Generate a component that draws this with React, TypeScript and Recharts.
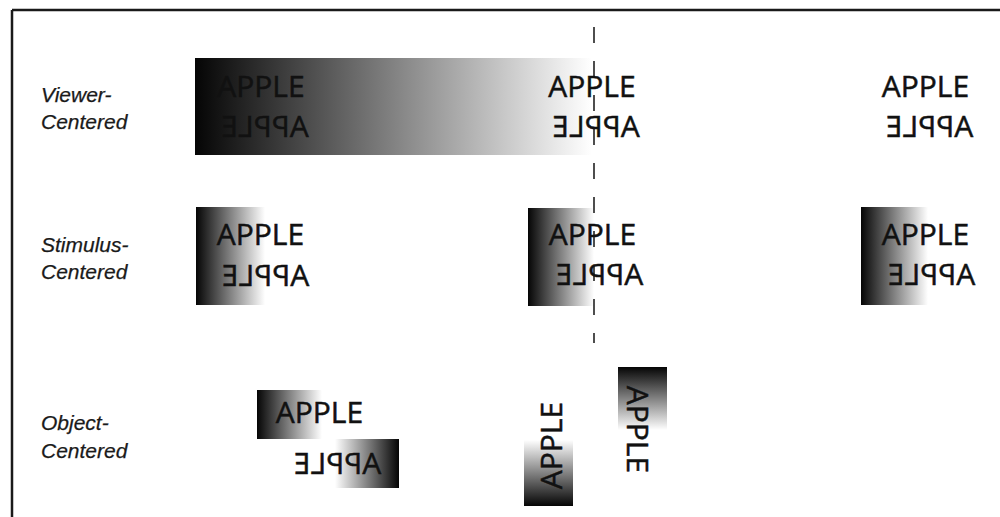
import { ComposedChart, XAxis, YAxis, Scatter, ReferenceArea, ReferenceLine } from "recharts";

// coordinate space of the figure: x 0..1000, y 0..517 (top-down)
const W = 1000;
const H = 517;

// shaded boxes: [x1, x2, y1, y2, gradient id]
const boxes: [number, number, number, number, string][] = [
  [195, 592, 58, 155, "toWhiteRight"],
  [196, 265, 207, 305, "toWhiteRight"],
  [528, 594, 208, 306, "toWhiteRight"],
  [861, 928, 207, 305, "toWhiteRight"],
  [257, 322, 390, 439, "toWhiteRight"],
  [335, 399, 439, 488, "toWhiteLeft"],
  [524, 573, 440, 506, "toWhiteTop"],
  [618, 667, 367, 430, "toWhiteBottom"],
];

// row labels
const labels = [
  { x: 41, y: 102, text: "Viewer-" },
  { x: 41, y: 129, text: "Centered" },
  { x: 41, y: 252, text: "Stimulus-" },
  { x: 41, y: 279, text: "Centered" },
  { x: 41, y: 430, text: "Object-" },
  { x: 41, y: 458, text: "Centered" },
];

// word positions, kind = how the word is drawn
const words = [
  { x: 261, y: 97, kind: "normal" },
  { x: 592, y: 97, kind: "normal" },
  { x: 925.5, y: 97, kind: "normal" },
  { x: 265, y: 137, kind: "mirror" },
  { x: 596, y: 137, kind: "mirror" },
  { x: 929.5, y: 137, kind: "mirror" },
  { x: 260.5, y: 245, kind: "normal" },
  { x: 592.5, y: 245, kind: "normal" },
  { x: 925.5, y: 245, kind: "normal" },
  { x: 265.5, y: 286, kind: "mirror" },
  { x: 599.5, y: 285, kind: "mirror" },
  { x: 931.5, y: 285, kind: "mirror" },
  { x: 319.5, y: 423, kind: "normal" },
  { x: 337.5, y: 474, kind: "mirror" },
  { x: 562, y: 445.5, kind: "up" },
  { x: 627, y: 429.5, kind: "down" },
];

const WORD = "APPLE";

const transformFor = (kind: string, cx: number, cy: number) => {
  if (kind === "mirror") return `translate(${cx},${cy}) scale(-1,1)`;
  if (kind === "up") return `translate(${cx},${cy}) rotate(-90)`;
  if (kind === "down") return `translate(${cx},${cy}) rotate(90)`;
  return `translate(${cx},${cy})`;
};

const WordShape = (props: any) => {
  const { cx, cy, payload } = props;
  return (
    <text
      transform={transformFor(payload.kind, cx, cy)}
      x={0}
      y={0}
      textAnchor="middle"
      fontFamily="'Open Sans', sans-serif"
      fontSize={30}
      fill="#111"
      stroke="#111"
      strokeWidth={0.5}
    >
      {WORD}
    </text>
  );
};

const LabelShape = (props: any) => {
  const { cx, cy, payload } = props;
  return (
    <text
      x={cx}
      y={cy}
      textAnchor="start"
      fontFamily="'Liberation Sans', Arial, sans-serif"
      fontStyle="italic"
      fontSize={21}
      fill="#1a1a1a"
      stroke="#1a1a1a"
      strokeWidth={0.25}
    >
      {payload.text}
    </text>
  );
};

export default function App() {
  return (
    <div style={{ position: "absolute", left: 0, top: 0, width: W, height: H, background: "#fff" }}>
      <ComposedChart width={W} height={H} margin={{ top: 0, right: 0, bottom: 0, left: 0 }}>
        <defs>
          <linearGradient id="toWhiteRight" x1="0" y1="0" x2="1" y2="0">
            <stop offset="0%" stopColor="#050505" />
            <stop offset="100%" stopColor="#ffffff" />
          </linearGradient>
          <linearGradient id="toWhiteLeft" x1="1" y1="0" x2="0" y2="0">
            <stop offset="0%" stopColor="#050505" />
            <stop offset="100%" stopColor="#ffffff" />
          </linearGradient>
          <linearGradient id="toWhiteTop" x1="0" y1="1" x2="0" y2="0">
            <stop offset="0%" stopColor="#050505" />
            <stop offset="100%" stopColor="#ffffff" />
          </linearGradient>
          <linearGradient id="toWhiteBottom" x1="0" y1="0" x2="0" y2="1">
            <stop offset="0%" stopColor="#050505" />
            <stop offset="100%" stopColor="#ffffff" />
          </linearGradient>
        </defs>
        <XAxis type="number" dataKey="x" domain={[0, W]} hide allowDataOverflow />
        <YAxis type="number" dataKey="y" domain={[0, H]} reversed hide allowDataOverflow />
        {boxes.map(([x1, x2, y1, y2, g], i) => (
          <ReferenceArea
            key={i}
            x1={x1}
            x2={x2}
            y1={y1}
            y2={y2}
            fill={`url(#${g})`}
            fillOpacity={1}
            stroke="none"
            ifOverflow="visible"
          />
        ))}
        <ReferenceLine
          segment={[{ x: 12, y: 10 }, { x: W, y: 10 }]}
          stroke="#1a1a1a"
          strokeWidth={2.5}
          ifOverflow="visible"
        />
        <ReferenceLine
          segment={[{ x: 12, y: 10 }, { x: 12, y: H }]}
          stroke="#1a1a1a"
          strokeWidth={2.5}
          ifOverflow="visible"
        />
        <Scatter data={labels} shape={LabelShape} isAnimationActive={false} />
        <Scatter data={words} shape={WordShape} isAnimationActive={false} />
        <ReferenceLine
          segment={[{ x: 594, y: 27 }, { x: 594, y: 343 }]}
          stroke="#222"
          strokeWidth={1.6}
          strokeDasharray="16 18"
          ifOverflow="visible"
        />
      </ComposedChart>
    </div>
  );
}
